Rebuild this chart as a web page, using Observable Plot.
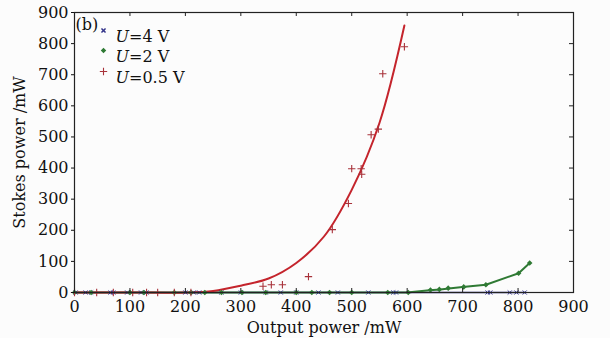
<!DOCTYPE html>
<html><head><meta charset="utf-8">
<script src="https://cdn.jsdelivr.net/npm/d3@7"></script>
<script src="https://cdn.jsdelivr.net/npm/@observablehq/plot@0.6"></script>
<style>
body{margin:0;background:#fcfcfc}
#chart{width:610px;height:338px}
</style>
</head><body><div id="chart"></div>
<script>
const xTicks = [0,100,200,300,400,500,600,700,800,900];
const yTicks = [0,100,200,300,400,500,600,700,800,900];
const xLabel = "Output power /mW";
const yLabel = "Stokes power /mW";
const panelLabel = "(b)";
const seriesNames = ["U=4 V","U=2 V","U=0.5 V"];

// U=4 V (blue ×)
const u4X = [2,20,30,65,70,95,120,130,200,215,225,265,300,345,372,400,440,475,530,575,580,745,750,785,797,812];
const u4Y = [0,0,0,0,0,0,0,0,0,0,0,0,0,0,0,0,0,0,0,0,0,0,0,0,0,0];

// U=2 V (green)
const u2X = [0,30,100,125,180,210,235,265,302,345,400,428,460,500,565,602,642,658,674,702,742,801,821];
const u2Y = [0,0,0,0,0,0,0,0,0,0,0,0,0,0,0,0,8,10,14,18,25,62,95];
const u2FitX = [0,600,640,660,675,700,742,801,821];
const u2FitY = [0,0,7,10,13,18,25,62,95];

// U=0.5 V (red +)
const u05X = [0,40,70,105,130,150,180,210,340,355,375,422,465,494,500,517,518,535,548,556,595];
const u05Y = [0,0,0,0,0,0,0,0,20,25,25,51,202,286,398,398,380,507,525,703,790];
const u05FitX = [0,100,200,250,300,350,400,450,500,550,595];
const u05FitY = [0,0,0,5,22,45,95,180,330,545,858];

const zip = (xs, ys) => xs.map((x,i)=>({x, y: ys[i]}));
const blue = "#34358a", green = "#2f7a34", red = "#c4242c", redMark = "#a8323a";

const chart = Plot.plot({
  width: 610, height: 338,
  marginLeft: 74, marginRight: 37, marginTop: 12, marginBottom: 46,
  style: {fontFamily: "DejaVu Serif", fontSize: "16px", background: "#fcfcfc", color: "#111"},
  x: {domain: [0,900]},
  y: {domain: [0,900]},
  marks: [
    Plot.line(zip(u4X,u4Y), {x:"x", y:"y", stroke: blue, strokeWidth: 1.5}),
    Plot.line(zip(u2FitX,u2FitY), {x:"x", y:"y", stroke: green, strokeWidth: 2}),
    Plot.line(zip(u05FitX,u05FitY), {x:"x", y:"y", stroke: red, strokeWidth: 2, curve: "catmull-rom"}),
    Plot.dot(zip(u4X,u4Y), {x:"x", y:"y", symbol:"times", r: 2, stroke: blue, strokeWidth: 1}),
    Plot.dot(zip(u2X,u2Y), {x:"x", y:"y", symbol:"diamond2", r: 2.5, fill: green, stroke: "none"}),
    Plot.dot(zip(u05X,u05Y), {x:"x", y:"y", symbol:"plus", r: 2.5, stroke: redMark, strokeWidth: 1.1}),
    Plot.frame({stroke: "#222", strokeWidth: 1.2}),
    Plot.tickX(xTicks, {x: d=>d, insetTop: 276, stroke: "#222"}),
    Plot.tickX(xTicks, {x: d=>d, insetBottom: 276, stroke: "#222"}),
    Plot.tickY(yTicks, {y: d=>d, insetLeft: 495, stroke: "#222"}),
    Plot.axisX({ticks: xTicks, tickSize: 0, tickPadding: 8, fontSize: 16, label: null}),
    Plot.text([xLabel], {frameAnchor: "bottom", lineAnchor: "middle", dy: 35, fontSize: 16}),
    Plot.axisY({ticks: yTicks, tickSize: 3, tickPadding: 3, fontSize: 16, label: yLabel, labelAnchor: "center", labelArrow: false, labelOffset: 61}),
    Plot.text([panelLabel], {frameAnchor: "top-left", dx: 1, dy: 6, textAnchor: "start", fontSize: 16}),
    Plot.dot([0], {frameAnchor: "top-left", dx: 29, dy: 18, symbol: "times", r: 2, stroke: blue}),
    Plot.dot([0], {frameAnchor: "top-left", dx: 29, dy: 38, symbol: "diamond2", r: 2.5, fill: green}),
    Plot.dot([0], {frameAnchor: "top-left", dx: 29, dy: 59, symbol: "plus", r: 2.5, stroke: redMark, strokeWidth: 1.1}),
    Plot.text([seriesNames[0]], {frameAnchor: "top-left", dx: 41, dy: 18, textAnchor: "start", fontSize: 16, className: "leg"}),
    Plot.text([seriesNames[1]], {frameAnchor: "top-left", dx: 41, dy: 38, textAnchor: "start", fontSize: 16, className: "leg"}),
    Plot.text([seriesNames[2]], {frameAnchor: "top-left", dx: 41, dy: 59, textAnchor: "start", fontSize: 16, className: "leg"})
  ]
});
d3.select(chart).selectAll("g.leg text").each(function(){
  const t = this.textContent;
  const s = d3.select(this); s.text(null);
  s.append("tspan").attr("font-style","italic").text(t[0]);
  s.append("tspan").text(t.slice(1));
});
document.getElementById("chart").appendChild(chart);
</script>
</body></html>
